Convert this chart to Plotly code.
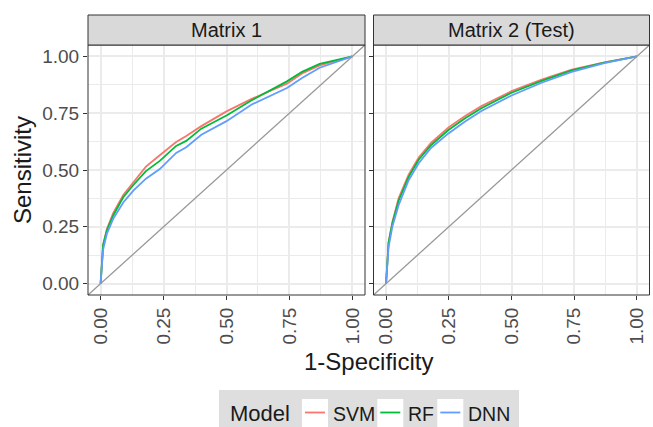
import plotly.graph_objects as go

# ---------------- data ----------------
models = ["SVM", "RF", "DNN"]
colors = ["#F8766D", "#00BA38", "#619CFF"]
panels = ["Matrix 1", "Matrix 2 (Test)"]

fpr_m1 = [0, 0.005, 0.01, 0.025, 0.05, 0.09, 0.13, 0.18, 0.235, 0.30, 0.34, 0.40, 0.50, 0.60, 0.74, 0.80, 0.87, 1.0]
svm_m1 = [0, 0.12, 0.17, 0.24, 0.31, 0.39, 0.445, 0.515, 0.565, 0.623, 0.65, 0.693, 0.758, 0.813, 0.88, 0.925, 0.96, 1.0]
rf_m1  = [0, 0.12, 0.17, 0.235, 0.30, 0.38, 0.434, 0.495, 0.54, 0.606, 0.628, 0.682, 0.74, 0.807, 0.89, 0.932, 0.967, 1.0]
dnn_m1 = [0, 0.10, 0.15, 0.22, 0.285, 0.357, 0.409, 0.462, 0.504, 0.575, 0.60, 0.655, 0.715, 0.788, 0.861, 0.905, 0.95, 1.0]

fpr_m2 = [0, 0.005, 0.01, 0.025, 0.05, 0.09, 0.13, 0.18, 0.25, 0.315, 0.38, 0.50, 0.62, 0.74, 0.87, 1.0]
svm_m2 = [0, 0.11, 0.18, 0.27, 0.375, 0.48, 0.555, 0.62, 0.688, 0.738, 0.781, 0.847, 0.898, 0.942, 0.974, 1.0]
rf_m2  = [0, 0.11, 0.18, 0.265, 0.365, 0.47, 0.545, 0.61, 0.677, 0.728, 0.772, 0.84, 0.892, 0.938, 0.972, 1.0]
dnn_m2 = [0, 0.09, 0.16, 0.25, 0.345, 0.455, 0.53, 0.598, 0.662, 0.713, 0.76, 0.828, 0.884, 0.932, 0.970, 1.0]

tick_vals = [0, 0.25, 0.5, 0.75, 1.0]
tick_text = ["0.00", "0.25", "0.50", "0.75", "1.00"]

# ---------------- figure ----------------
W, H = 653, 427
FONT = "Liberation Sans, Arial, Helvetica, sans-serif"

def px_x(p):
    return p / W

def px_y(p):
    return (H - p) / H

x1_dom = [px_x(88), px_x(365)]
x2_dom = [px_x(373.5), px_x(649.5)]
y_dom = [px_y(295), px_y(45)]
strip_top = px_y(15)

fig = go.Figure()

series = [
    (fpr_m1, [svm_m1, rf_m1, dnn_m1], "x", "y"),
    (fpr_m2, [svm_m2, rf_m2, dnn_m2], "x2", "y2"),
]
for pi, (fx, ys, xa, ya) in enumerate(series):
    for mi, (m, c) in enumerate(zip(models, colors)):
        fig.add_trace(go.Scatter(
            x=fx, y=ys[mi], mode="lines", name=m,
            line=dict(color=c, width=1.8),
            xaxis=xa, yaxis=ya, legendgroup=m,
            showlegend=False,
        ))

axis_common = dict(
    range=[-0.05, 1.05], tickvals=tick_vals, ticktext=tick_text,
    ticks="outside", ticklen=4, tickwidth=1, tickcolor="#333333",
    tickfont=dict(family=FONT, size=19, color="#4D4D4D"),
    showgrid=True, gridcolor="#EBEBEB", gridwidth=2,
    minor=dict(tick0=0.125, dtick=0.25, showgrid=True, gridcolor="#EBEBEB", gridwidth=1, ticks=""),
    zeroline=False, showline=False, fixedrange=True,
)

fig.update_layout(
    width=W, height=H,
    margin=dict(l=0, r=0, t=0, b=0),
    paper_bgcolor="white", plot_bgcolor="white",
    font=dict(family=FONT, color="#1A1A1A"),
    xaxis=dict(domain=x1_dom, anchor="y", tickangle=-90, **axis_common),
    yaxis=dict(domain=y_dom, anchor="x", **axis_common),
    xaxis2=dict(domain=x2_dom, anchor="y2", tickangle=-90, **axis_common),
    yaxis2=dict(domain=y_dom, anchor="x2", showticklabels=False, matches="y",
                **{k: v for k, v in axis_common.items() if k != "tickfont"}),
    showlegend=False,
)

shapes = []
annotations = []

# ---- legend (drawn as a guide box like ggplot's) ----
shapes.append(dict(type="rect", xref="paper", yref="paper",
                   x0=px_x(219), x1=px_x(519), y0=px_y(432), y1=px_y(390),
                   fillcolor="#DEDEDE", line=dict(width=0), layer="below"))
annotations.append(dict(text="Model", xref="paper", yref="paper",
                        x=px_x(228), y=px_y(413), xanchor="left", yanchor="middle",
                        showarrow=False, font=dict(family=FONT, size=22, color="#1A1A1A")))
key_left = [302, 377.3, 437.3]
for m, c, kx in zip(models, colors, key_left):
    shapes.append(dict(type="rect", xref="paper", yref="paper",
                       x0=px_x(kx), x1=px_x(kx + 26), y0=px_y(427), y1=px_y(399),
                       fillcolor="white", line=dict(width=0), layer="below"))
    shapes.append(dict(type="line", xref="paper", yref="paper",
                       x0=px_x(kx + 3), x1=px_x(kx + 23), y0=px_y(412.5), y1=px_y(412.5),
                       line=dict(color=c, width=1.8), layer="above"))
    annotations.append(dict(text=m, xref="paper", yref="paper",
                            x=px_x(kx + 29), y=px_y(413.5), xanchor="left", yanchor="middle",
                            showarrow=False, font=dict(family=FONT, size=19.5, color="#1A1A1A")))

for xa, ya, dom in [("x", "y", x1_dom), ("x2", "y2", x2_dom)]:
    # diagonal reference line y = x spanning the panel
    shapes.append(dict(type="line", xref=f"{xa} domain", yref=f"{ya} domain",
                       x0=0, y0=0, x1=1, y1=1, line=dict(color="#999999", width=1.3), layer="above"))
    # panel border
    shapes.append(dict(type="rect", xref=f"{xa} domain", yref=f"{ya} domain",
                       x0=0, y0=0, x1=1, y1=1, line=dict(color="#333333", width=1),
                       fillcolor="rgba(0,0,0,0)", layer="above"))
    # strip
    shapes.append(dict(type="rect", xref="paper", yref="paper",
                       x0=dom[0], x1=dom[1], y0=y_dom[1], y1=strip_top,
                       fillcolor="#D9D9D9", line=dict(color="#333333", width=1)))
fig.update_layout(shapes=shapes)

for name, dom in zip(panels, [x1_dom, x2_dom]):
    annotations.append(dict(text=name, xref="paper", yref="paper",
                            x=(dom[0] + dom[1]) / 2, y=(y_dom[1] + strip_top) / 2,
                            xanchor="center", yanchor="middle", showarrow=False,
                            font=dict(family=FONT, size=20, color="#1A1A1A")))
annotations.append(dict(text="1-Specificity", xref="paper", yref="paper",
                        x=(x1_dom[0] + x2_dom[1]) / 2, y=px_y(361),
                        xanchor="center", yanchor="middle", showarrow=False,
                        font=dict(family=FONT, size=24, color="#1A1A1A")))
annotations.append(dict(text="Sensitivity", xref="paper", yref="paper",
                        x=px_x(22), y=(y_dom[0] + y_dom[1]) / 2, textangle=-90,
                        xanchor="center", yanchor="middle", showarrow=False,
                        font=dict(family=FONT, size=24, color="#1A1A1A")))
fig.update_layout(annotations=annotations)

fig.write_html("out.html")
